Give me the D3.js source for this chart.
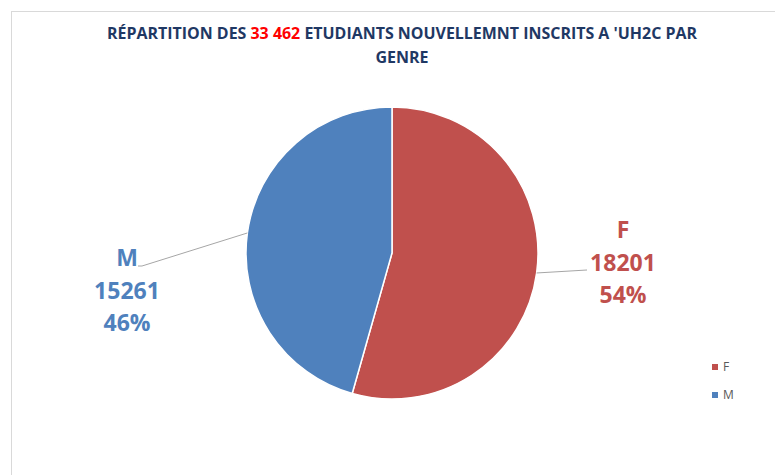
<!DOCTYPE html>
<html>
<head>
<meta charset="utf-8">
<script src="https://cdn.jsdelivr.net/npm/d3@7"></script>
<style>
  body { margin: 0; background: #fff; }
  svg { display: block; }
</style>
</head>
<body>
<svg id="chart" width="775" height="475"></svg>
<script>
// data
const categories = ["F", "M"];
const counts = [18201, 15261];
const percents = ["54%", "46%"];
const colors = ["#C0504D", "#4F81BD"];
const titleParts = [
  { text: "RÉPARTITION DES ", red: false },
  { text: "33 462", red: true },
  { text: " ETUDIANTS NOUVELLEMNT INSCRITS A 'UH2C PAR", red: false }
];
const titleLine2 = "GENRE";

const svg = d3.select("#chart");
const cx = 392, cy = 253, radius = 146;

// chart frame (only top and left edges are visible in the crop)
svg.append("rect")
  .attr("x", 11.5).attr("y", 11.5)
  .attr("width", 800).attr("height", 500)
  .attr("fill", "#fff")
  .attr("stroke", "#d9d9d9");

// title
const title = svg.append("text")
  .attr("x", 402).attr("y", 39)
  .attr("text-anchor", "middle")
  .attr("font-family", "'Open Sans', sans-serif")
  .attr("font-weight", "bold")
  .attr("font-size", 16)
  .attr("fill", "#1F3864")
  .attr("textLength", 590)
  .attr("lengthAdjust", "spacingAndGlyphs");
titleParts.forEach(p => {
  title.append("tspan").text(p.text).attr("fill", p.red ? "#FF0000" : null);
});
svg.append("text")
  .attr("x", 402).attr("y", 63)
  .attr("text-anchor", "middle")
  .attr("font-family", "'Open Sans', sans-serif")
  .attr("font-weight", "bold")
  .attr("font-size", 16)
  .attr("fill", "#1F3864")
  .text(titleLine2);

// pie
const data = categories.map((c, i) => ({ cat: c, value: counts[i], pct: percents[i], color: colors[i] }));
const pie = d3.pie().sort(null).value(d => d.value);
const arcs = pie(data);
const arc = d3.arc().innerRadius(0).outerRadius(radius);

const g = svg.append("g").attr("transform", `translate(${cx},${cy})`);
g.selectAll("path")
  .data(arcs)
  .join("path")
  .attr("d", arc)
  .attr("fill", d => d.data.color)
  .attr("stroke", "#fff")
  .attr("stroke-width", 1.5);

// data labels with leader lines
const labelPos = {
  F: { x: 623, y: 230, rimAngle: 1.708, anchor: [587, 270] },
  M: { x: 127, y: 258, rimAngle: 4.85, anchor: [142, 266] }
};
arcs.forEach(a => {
  const p = labelPos[a.data.cat];
  const rim = [cx + radius * Math.sin(p.rimAngle), cy - radius * Math.cos(p.rimAngle)];
  const pts = a.data.cat === "F"
    ? [rim, p.anchor]
    : [rim, p.anchor, [p.anchor[0] - 4, p.anchor[1]]];
  svg.append("path")
    .attr("d", d3.line()(pts))
    .attr("fill", "none")
    .attr("stroke", "#a6a6a6")
    .attr("stroke-width", 1);

  const t = svg.append("text")
    .attr("text-anchor", "middle")
    .attr("font-family", "'Open Sans', sans-serif")
    .attr("font-weight", "bold")
    .attr("font-size", 23)
    .attr("fill", a.data.color);
  [a.data.cat, a.data.value, a.data.pct].forEach((s, i) => {
    t.append("tspan").attr("x", p.x).attr("y", p.y + 8 + i * 32.5).text(s);
  });
});

// legend
const legend = svg.append("g").attr("transform", "translate(712,364)");
data.forEach((d, i) => {
  const row = legend.append("g").attr("transform", `translate(0,${i * 28})`);
  row.append("rect").attr("width", 6).attr("height", 6).attr("fill", d.color);
  row.append("text")
    .attr("x", 11).attr("y", 7)
    .attr("font-family", "'Open Sans', sans-serif")
    .attr("font-size", 12)
    .attr("fill", "#595959")
    .text(d.cat);
});
</script>
</body>
</html>
